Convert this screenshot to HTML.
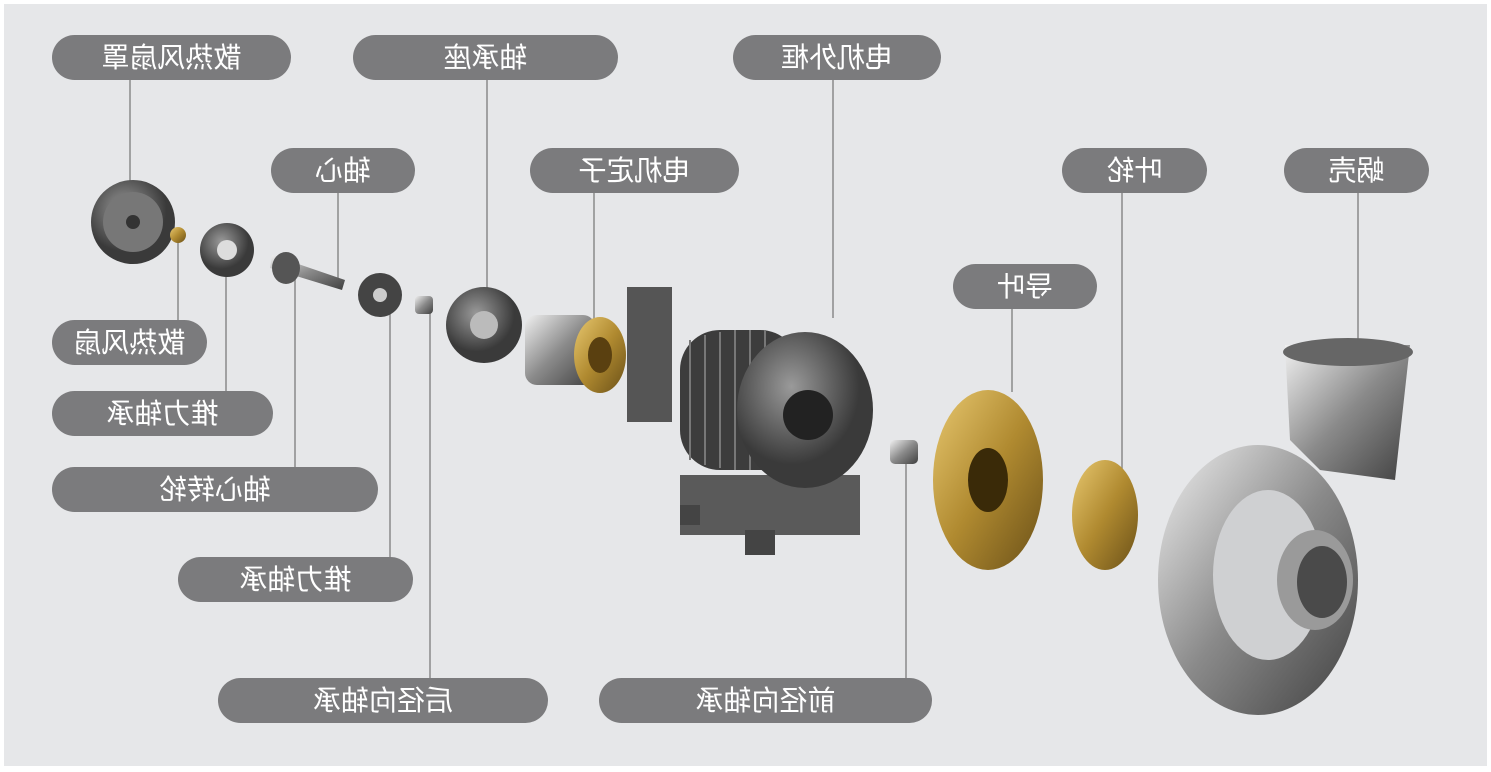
<!DOCTYPE html><html><head><meta charset="utf-8"><style>
body{margin:0;width:1491px;height:772px;background:#fff;overflow:hidden;position:relative;font-family:"Liberation Sans","Noto Sans CJK SC",sans-serif}
#bg{position:absolute;left:4px;top:4px;width:1483px;height:762px;background:#e6e7e9}
.p{position:absolute;height:45px;border-radius:23px;background:#7b7b7d;color:#fff;font-size:28px;line-height:45px;text-align:center;transform:scaleX(-1)}
svg{position:absolute;left:0;top:0}
</style></head><body><div id="bg"></div>
<svg width="1491" height="772" viewBox="0 0 1491 772">
<defs>
<radialGradient id="dk" cx="40%" cy="35%"><stop offset="0" stop-color="#9a9a9a"/><stop offset="1" stop-color="#3a3a3a"/></radialGradient>
<linearGradient id="gd" x1="0" y1="0" x2="1" y2="1"><stop offset="0" stop-color="#e8c870"/><stop offset="0.5" stop-color="#b08a30"/><stop offset="1" stop-color="#6a5018"/></linearGradient>
<linearGradient id="sv" x1="0" y1="0" x2="1" y2="1"><stop offset="0" stop-color="#f0f0f0"/><stop offset="0.5" stop-color="#8a8a8a"/><stop offset="1" stop-color="#404040"/></linearGradient>
</defs>
<g stroke="#8a8a8a" stroke-width="1.5">
<line x1="130" y1="80" x2="130" y2="182"/><line x1="487" y1="80" x2="487" y2="288"/><line x1="833" y1="80" x2="833" y2="318"/>
<line x1="338" y1="193" x2="338" y2="280"/><line x1="594" y1="193" x2="594" y2="320"/><line x1="1122" y1="193" x2="1122" y2="478"/>
<line x1="1358" y1="193" x2="1358" y2="340"/><line x1="1012" y1="309" x2="1012" y2="392"/><line x1="178" y1="240" x2="178" y2="320"/>
<line x1="226" y1="262" x2="226" y2="391"/><line x1="295" y1="278" x2="295" y2="467"/><line x1="390" y1="300" x2="390" y2="557"/>
<line x1="430" y1="312" x2="430" y2="678"/><line x1="906" y1="460" x2="906" y2="678"/>
</g>
<circle cx="133" cy="222" r="42" fill="url(#dk)"/><circle cx="133" cy="222" r="30" fill="#777"/><circle cx="133" cy="222" r="7" fill="#333"/>
<circle cx="178" cy="235" r="8" fill="url(#gd)"/>
<circle cx="227" cy="250" r="27" fill="url(#dk)"/><circle cx="227" cy="250" r="10" fill="#ddd"/>
<polygon points="272,255 345,280 342,290 270,268" fill="url(#sv)"/><ellipse cx="286" cy="268" rx="14" ry="16" fill="#555"/>
<circle cx="380" cy="295" r="22" fill="#444"/><circle cx="380" cy="295" r="7" fill="#ccc"/>
<rect x="415" y="296" width="18" height="18" rx="4" fill="url(#sv)"/>
<circle cx="484" cy="325" r="38" fill="url(#dk)"/><circle cx="484" cy="325" r="14" fill="#bbb"/>
<rect x="525" y="315" width="70" height="70" rx="12" fill="url(#sv)"/><ellipse cx="600" cy="355" rx="26" ry="38" fill="url(#gd)"/><ellipse cx="600" cy="355" rx="12" ry="18" fill="#5a4010"/>
<rect x="627" y="287" width="45" height="135" fill="#555"/>
<rect x="680" y="475" width="180" height="60" fill="#5a5a5a"/>
<rect x="680" y="330" width="120" height="140" rx="40" fill="#3c3c3c"/>
<g stroke="#777" stroke-width="2"><line x1="690" y1="340" x2="690" y2="460"/><line x1="705" y1="335" x2="705" y2="465"/><line x1="720" y1="332" x2="720" y2="468"/><line x1="735" y1="330" x2="735" y2="470"/><line x1="750" y1="330" x2="750" y2="470"/><line x1="765" y1="330" x2="765" y2="470"/></g>
<ellipse cx="805" cy="410" rx="68" ry="78" fill="url(#dk)"/><circle cx="808" cy="415" r="25" fill="#222"/>
<rect x="745" y="530" width="30" height="25" fill="#444"/><rect x="680" y="505" width="20" height="20" fill="#444"/>
<rect x="890" y="440" width="28" height="24" rx="5" fill="url(#sv)"/>
<ellipse cx="988" cy="480" rx="55" ry="90" fill="url(#gd)"/><ellipse cx="988" cy="480" rx="20" ry="32" fill="#3a2a08"/>
<ellipse cx="1105" cy="515" rx="33" ry="55" fill="url(#gd)"/>
<path d="M1285,345 L1410,345 L1395,480 L1320,470 L1290,440 Z" fill="url(#sv)"/>
<ellipse cx="1258" cy="580" rx="100" ry="135" fill="url(#sv)"/>
<ellipse cx="1268" cy="575" rx="55" ry="85" fill="#cfd0d2"/>
<ellipse cx="1315" cy="580" rx="38" ry="50" fill="#9a9a9a"/><ellipse cx="1322" cy="582" rx="25" ry="36" fill="#4a4a4a"/>
<ellipse cx="1348" cy="352" rx="65" ry="14" fill="#666"/>
</svg>
<div class="p" style="left:52px;top:35px;width:239px">散热风扇罩</div>
<div class="p" style="left:353px;top:35px;width:265px">轴承座</div>
<div class="p" style="left:733px;top:35px;width:208px">电机外框</div>
<div class="p" style="left:271px;top:148px;width:144px">轴心</div>
<div class="p" style="left:530px;top:148px;width:209px">电机定子</div>
<div class="p" style="left:1062px;top:148px;width:145px">叶轮</div>
<div class="p" style="left:1284px;top:148px;width:145px">蜗壳</div>
<div class="p" style="left:953px;top:264px;width:144px">导叶</div>
<div class="p" style="left:52px;top:320px;width:155px">散热风扇</div>
<div class="p" style="left:52px;top:391px;width:221px">推力轴承</div>
<div class="p" style="left:52px;top:467px;width:326px">轴心转轮</div>
<div class="p" style="left:178px;top:557px;width:235px">推力轴承</div>
<div class="p" style="left:218px;top:678px;width:330px">后径向轴承</div>
<div class="p" style="left:599px;top:678px;width:333px">前径向轴承</div>
</body></html>
